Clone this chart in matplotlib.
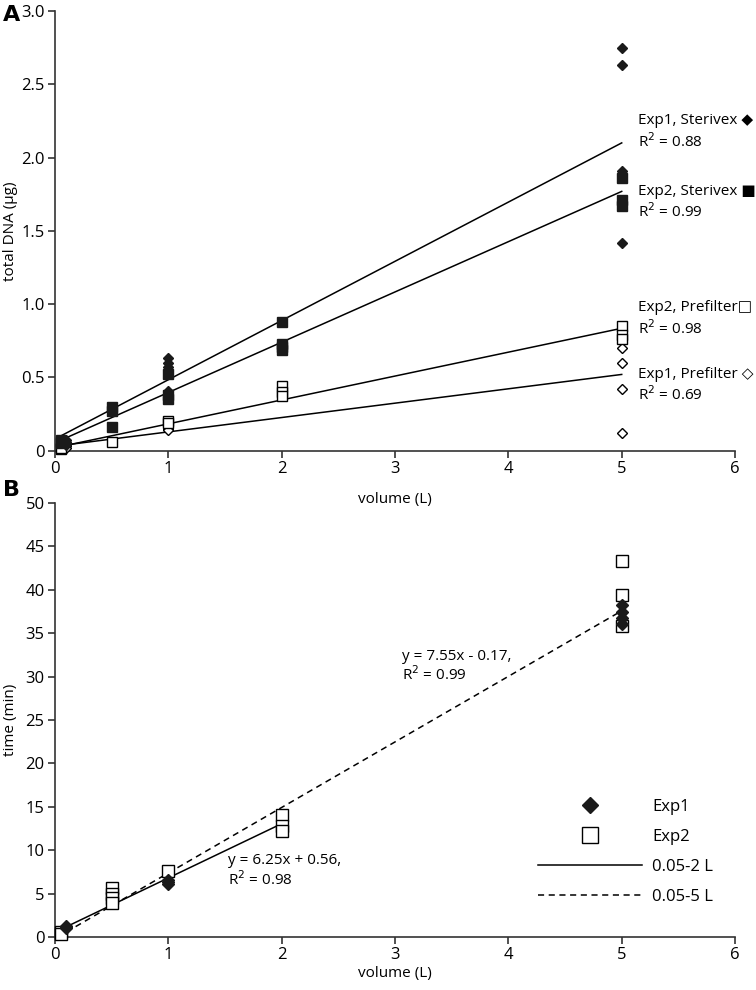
import matplotlib
matplotlib.use("Agg")
import matplotlib.pyplot as plt
from matplotlib.lines import Line2D
import numpy as np

plt.rcParams['font.family'] = ['Open Sans', 'DejaVu Sans']
plt.rcParams['font.size'] = 12

# ---- panel A: total DNA vs volume ----
exp1_ster_x = [0.1, 0.1, 0.1, 0.1, 1, 1, 1, 1, 5, 5, 5, 5]
exp1_ster_y = [0.07, 0.06, 0.05, 0.04, 0.63, 0.60, 0.57, 0.41, 2.75, 2.63, 1.91, 1.42]

exp2_ster_x = [0.05, 0.05, 0.05, 0.5, 0.5, 0.5, 1, 1, 1, 2, 2, 2, 2, 5, 5, 5]
exp2_ster_y = [0.07, 0.06, 0.05, 0.30, 0.27, 0.16, 0.52, 0.38, 0.35, 0.88, 0.73, 0.71, 0.69, 1.86, 1.71, 1.67]

exp2_pre_x = [0.05, 0.05, 0.5, 1, 1, 2, 2, 2, 5, 5, 5]
exp2_pre_y = [0.01, 0.02, 0.06, 0.20, 0.19, 0.44, 0.40, 0.37, 0.85, 0.79, 0.76]

exp1_pre_x = [0.1, 0.1, 1, 1, 1, 5, 5, 5, 5, 5]
exp1_pre_y = [0.03, 0.02, 0.17, 0.15, 0.14, 0.75, 0.70, 0.60, 0.42, 0.12]

# fitted lines (slope, intercept)
fit_a = {
    'Exp1, Sterivex': (0.404, 0.08),
    'Exp2, Sterivex': (0.343, 0.054),
    'Exp2, Prefilter': (0.163, 0.02),
    'Exp1, Prefilter': (0.098, 0.03),
}
labels_a = ['Exp1, Sterivex \u25c6', 'Exp2, Sterivex \u25a0', 'Exp2, Prefilter\u25a1', 'Exp1, Prefilter \u25c7']
r2_a = ['0.88', '0.99', '0.98', '0.69']
label_y_a = [2.25, 1.77, 0.975, 0.52]

# ---- panel B: filtration time vs volume ----
exp1_time_x = [0.1, 0.1, 0.1, 1, 1, 1, 5, 5, 5, 5]
exp1_time_y = [1.3, 1.0, 1.1, 6.6, 6.3, 6.1, 38.3, 37.5, 36.7, 36.1]

exp2_time_x = [0.05, 0.05, 0.5, 0.5, 0.5, 0.5, 1, 2, 2, 2, 5, 5, 5]
exp2_time_y = [0.6, 0.4, 5.6, 5.0, 4.5, 3.9, 7.6, 14.1, 12.8, 12.2, 43.3, 39.4, 35.8]

fit_short = (6.25, 0.56)   # 0.05-2 L
fit_long = (7.55, -0.17)   # 0.05-5 L


def style_axes(ax):
    for s in ['top', 'right']:
        ax.spines[s].set_visible(False)
    for s in ['left', 'bottom']:
        ax.spines[s].set_color('#333333')
        ax.spines[s].set_linewidth(1.2)
    ax.tick_params(direction='out', length=5, width=1.2, color='#333333', labelsize=12, pad=2.5)
    ax.yaxis.set_label_coords(-0.055, 0.5)
    ax.patch.set_visible(False)


fig = plt.figure(figsize=(7.56, 9.9), dpi=100)
ax1 = fig.add_axes([0.0728, 0.5448, 0.8995, 0.4441])
ax2 = fig.add_axes([0.0728, 0.0535, 0.8995, 0.4384])

# panel A
ax1.plot(exp1_pre_x, exp1_pre_y, 'D', mfc='white', mec='black', ms=5, mew=1, clip_on=False, zorder=3)
ax1.plot(exp2_pre_x, exp2_pre_y, 's', mfc='white', mec='black', ms=7, mew=1, clip_on=False, zorder=3)
ax1.plot(exp2_ster_x, exp2_ster_y, 's', color='#1a1a1a', ms=7, clip_on=False, zorder=3)
ax1.plot(exp1_ster_x, exp1_ster_y, 'D', color='#1a1a1a', ms=5.5, clip_on=False, zorder=3)

xf = np.array([0.05, 5])
for (name, (m, b)), lab, r2, ly in zip(fit_a.items(), labels_a, r2_a, label_y_a):
    ax1.plot(xf, m * xf + b, color='black', lw=1.1, zorder=2)
    ax1.text(5.14, ly, lab, fontsize=11, va='center', ha='left')
    ax1.text(5.14, ly - 0.14, 'R$^2$ = ' + r2, fontsize=11, va='center', ha='left')

ax1.set_xlim(0, 6)
ax1.set_ylim(0, 3)
ax1.set_xticks(range(7))
ax1.set_yticks(np.arange(0, 3.01, 0.5))
ax1.set_yticklabels(['0', '0.5', '1.0', '1.5', '2.0', '2.5', '3.0'])
ax1.set_xlabel('volume (L)', fontsize=11, labelpad=11)
ax1.set_ylabel('total DNA (\u00b5g)', fontsize=11)
style_axes(ax1)

# panel B
ax2.plot(exp2_time_x, exp2_time_y, 's', mfc='white', mec='black', ms=8, mew=1, clip_on=False, zorder=3)
ax2.plot(exp1_time_x, exp1_time_y, 'D', color='#1a1a1a', ms=6, clip_on=False, zorder=3)

xs = np.array([0.1, 2])
ax2.plot(xs, fit_short[0] * xs + fit_short[1], color='black', lw=1.1)
xl = np.array([0.1, 5])
ax2.plot(xl, fit_long[0] * xl + fit_long[1], color='black', lw=1.1, ls=(0, (4, 3)))

ax2.text(3.06, 31.2, 'y = 7.55x - 0.17,\nR$^2$ = 0.99', fontsize=11, va='center', ha='left', linespacing=1.1)
ax2.text(1.53, 7.6, 'y = 6.25x + 0.56,\nR$^2$ = 0.98', fontsize=11, va='center', ha='left', linespacing=1.1)

handles = [
    Line2D([], [], marker='D', color='#1a1a1a', ls='none', ms=8),
    Line2D([], [], marker='s', mfc='white', mec='black', ls='none', ms=12, mew=1),
    Line2D([], [], color='black', lw=1.1),
    Line2D([], [], color='black', lw=1.1, ls=(0, (4, 3))),
]
ax2.legend(handles, ['Exp1', 'Exp2', '0.05-2 L', '0.05-5 L'], loc='lower right',
           bbox_to_anchor=(0.99, 0.039), frameon=False, handlelength=6.25, fontsize=12,
           labelspacing=0.85, handletextpad=0.6)

ax2.set_xlim(0, 6)
ax2.set_ylim(0, 50)
ax2.set_xticks(range(7))
ax2.set_yticks(range(0, 51, 5))
ax2.set_xlabel('volume (L)', fontsize=11, labelpad=2)
ax2.set_ylabel('time (min)', fontsize=11)
style_axes(ax2)

fig.text(0.004, 0.985, 'A', fontsize=16, fontweight='bold', va='center', family='DejaVu Sans')
fig.text(0.004, 0.505, 'B', fontsize=16, fontweight='bold', va='center', family='DejaVu Sans')

fig.savefig('out.png', dpi=100)
